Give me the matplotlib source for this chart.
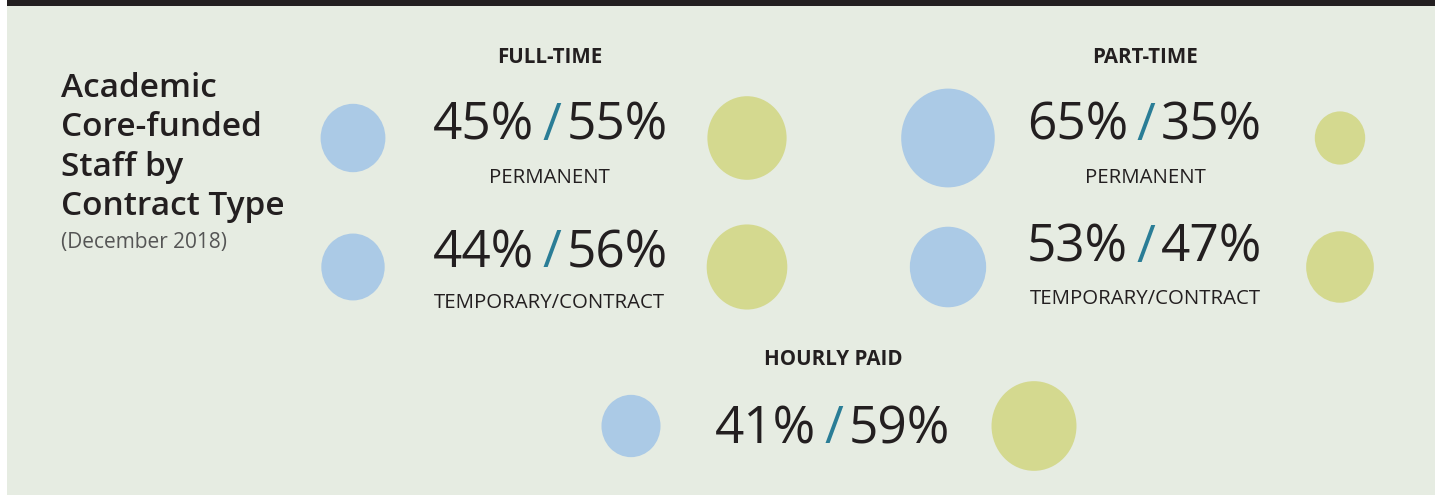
import matplotlib
matplotlib.use("Agg")
import matplotlib.pyplot as plt
from matplotlib.patches import Ellipse, Rectangle

# ---- data ----
groups = ["FULL-TIME", "PART-TIME", "HOURLY PAID"]
ft_labels = ["PERMANENT", "TEMPORARY/CONTRACT"]
ft_blue = [45, 44]
ft_yellow = [55, 56]
pt_labels = ["PERMANENT", "TEMPORARY/CONTRACT"]
pt_blue = [65, 53]
pt_yellow = [35, 47]
hp_blue = [41]
hp_yellow = [59]
title_lines = ["Academic", "Core-funded", "Staff by", "Contract Type"]
subtitle = "(December 2018)"

W, H = 1435, 495
BG = "#e6ece2"
BLUE = "#abcae6"
YELLOW = "#d4d98f"
TXT = "#231f20"
SLASH = "#2a7d96"
FAM = ["Open Sans", "DejaVu Sans"]

fig = plt.figure(figsize=(W / 100, H / 100), dpi=100)
fig.patch.set_facecolor("white")
ax = fig.add_axes([0, 0, 1, 1])
ax.set_xlim(0, W)
ax.set_ylim(H, 0)
ax.axis("off")

ax.add_patch(Rectangle((7, 0), W - 7, H, facecolor=BG, edgecolor="none"))
ax.add_patch(Rectangle((7, 0), W - 7, 6, facecolor=TXT, edgecolor="none"))

KX, KY = 0.72, 0.76


def circle(cx, cy, pct, color):
    ax.add_patch(Ellipse((cx, cy), 2 * KX * pct, 2 * KY * pct,
                         facecolor=color, edgecolor="none"))


def pair(sx, base, a, b):
    ax.text(sx - 18, base, f"{a}%", ha="right", va="baseline",
            fontsize=37, family=FAM, weight="normal", color=TXT)
    ax.text(sx, base, "/", ha="center", va="baseline",
            fontsize=37, family=FAM, weight="normal", color=SLASH)
    ax.text(sx + 15, base, f"{b}%", ha="left", va="baseline",
            fontsize=37, family=FAM, weight="normal", color=TXT)


def label(x, base, s):
    ax.text(x, base, s, ha="center", va="baseline", fontsize=14.7,
            family=FAM, weight="normal", color=TXT)


def header(x, base, s):
    ax.text(x, base, s, ha="center", va="baseline", fontsize=14.8,
            family=FAM, weight="bold", color=TXT)


# title
for i, line in enumerate(title_lines):
    ax.text(61, 97 + i * 39.4, line, ha="left", va="baseline", fontsize=24,
            family=FAM, weight="semibold", color=TXT)
ax.text(61, 248, subtitle, ha="left", va="baseline", fontsize=15,
        family=FAM, weight="normal", color="#555555")

# full-time
header(550, 63, groups[0])
ft_rows = [(138, 140, 183), (267, 267, 308)]
for (cy, nb, lb), lab, b, y in zip(ft_rows, ft_labels, ft_blue, ft_yellow):
    circle(353, cy, b, BLUE)
    circle(747, cy, y, YELLOW)
    pair(552, nb, b, y)
    label(549, lb, lab)

# part-time
header(1145, 63, groups[1])
pt_rows = [(138, 140, 183), (267, 262, 304)]
for (cy, nb, lb), lab, b, y in zip(pt_rows, pt_labels, pt_blue, pt_yellow):
    circle(948, cy, b, BLUE)
    circle(1340, cy, y, YELLOW)
    pair(1146, nb, b, y)
    label(1145, lb, lab)

# hourly paid
header(833, 365, groups[2])
circle(631, 426, hp_blue[0], BLUE)
circle(1034, 426, hp_yellow[0], YELLOW)
pair(834, 443, hp_blue[0], hp_yellow[0])

fig.savefig("out.png", dpi=100, facecolor=fig.get_facecolor())
